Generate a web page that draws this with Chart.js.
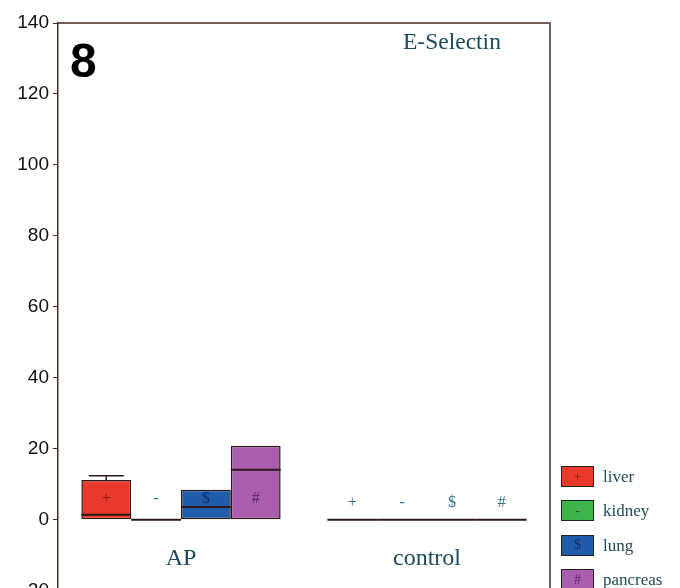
<!DOCTYPE html>
<html>
<head>
<meta charset="utf-8">
<script src="https://cdn.jsdelivr.net/npm/chart.js@4.4.1/dist/chart.umd.min.js"></script>
<style>
  html, body { margin: 0; padding: 0; overflow: hidden; background: #fff; }
  #wrap { position: relative; width: 680px; height: 606px; }
  canvas { position: absolute; left: 0; top: 0; }
  .panel { position: absolute; left: 70px; top: 37px; font: bold 48px "Liberation Sans", Arial, sans-serif; line-height: 1; color: #000; }
  .title { position: absolute; left: 403px; top: 30px; font: 23.5px "Liberation Serif", "Times New Roman", serif; line-height: 1; color: #1f4a58; }
  .legend { position: absolute; left: 561px; top: 466px; }
  .row { display: flex; align-items: center; height: 21px; margin-bottom: 13.4px; }
  .swatch { width: 31px; height: 19px; border: 1px solid #222; display: flex; align-items: center; justify-content: center;
            font: 14px "Liberation Serif", serif; line-height: 1; }
  .lbl { margin-left: 9px; font: 17px "Liberation Serif", "Times New Roman", serif; line-height: 1; color: #1f4a58; }
</style>
</head>
<body>
<div id="wrap">
  <canvas id="c" width="680" height="606"></canvas>
  <div class="panel">8</div>
  <div class="title">E-Selectin</div>
  <div class="legend" id="legend"></div>
</div>
<script>
// Groups along the x axis and the four tissues shown in each group
const groups = ['AP', 'control'];
const organs = ['liver', 'kidney', 'lung', 'pancreas'];
const organSymbols = ['+', '-', '$', '#'];
const organColors = ['#e8392b', '#3db54a', '#1f5caa', '#a95fae'];
const symbolColors = ['#8a1e18', '#1d5e26', '#10306a', '#5e2a66'];

// Box ranges [25th, 75th percentile] per group
const liverBox = [[0, 11.2], [0, 0]];
const kidneyBox = [[0, 0], [0, 0]];
const lungBox = [[0, 8.4], [0, 0]];
const pancreasBox = [[0, 20.8], [0, 0]];

// Medians per group
const liverMedian = [1.4, 0];
const kidneyMedian = [0, 0];
const lungMedian = [3.6, 0];
const pancreasMedian = [14.1, 0];

// Upper whisker ends per group
const liverWhisker = [12.4, 0];
const kidneyWhisker = [0, 0];
const lungWhisker = [8.4, 0];
const pancreasWhisker = [20.8, 0];

// y axis range and step
const yMin = -20, yMax = 140, yStep = 20;

const boxes = [liverBox, kidneyBox, lungBox, pancreasBox];
const medians = [liverMedian, kidneyMedian, lungMedian, pancreasMedian];
const whiskers = [liverWhisker, kidneyWhisker, lungWhisker, pancreasWhisker];

// Legend
const legendEl = document.getElementById('legend');
organs.forEach((name, i) => {
  const row = document.createElement('div');
  row.className = 'row';
  const sw = document.createElement('div');
  sw.className = 'swatch';
  sw.style.background = organColors[i];
  sw.style.color = symbolColors[i];
  sw.textContent = organSymbols[i];
  const lb = document.createElement('div');
  lb.className = 'lbl';
  lb.textContent = name;
  row.appendChild(sw);
  row.appendChild(lb);
  legendEl.appendChild(row);
});

const edge = '#2b1a17';

// Draws medians, whiskers, the in-box symbols, group labels and the frame
const boxExtras = {
  id: 'boxExtras',
  afterDatasetsDraw(chart, args, opts) {
    const ctx = chart.ctx;
    const ys = chart.scales.y, xs = chart.scales.x;
    const area = chart.chartArea;
    ctx.save();
    chart.data.datasets.forEach((ds, di) => {
      const meta = chart.getDatasetMeta(di);
      meta.data.forEach((bar, gi) => {
        const half = bar.width / 2;
        const left = bar.x - half, right = bar.x + half;
        const hi = boxes[di][gi][1];
        // median
        const my = ys.getPixelForValue(medians[di][gi]);
        ctx.strokeStyle = edge;
        ctx.lineWidth = 2;
        ctx.beginPath();
        ctx.moveTo(left, my);
        ctx.lineTo(right, my);
        ctx.stroke();
        // upper whisker
        const w = whiskers[di][gi];
        if (w > hi) {
          const ty = ys.getPixelForValue(hi), wy = ys.getPixelForValue(w);
          ctx.lineWidth = 1.5;
          ctx.beginPath();
          ctx.moveTo(bar.x, ty);
          ctx.lineTo(bar.x, wy);
          ctx.moveTo(bar.x - half * 0.7, wy);
          ctx.lineTo(bar.x + half * 0.7, wy);
          ctx.stroke();
        }
        // symbol
        const level = opts.symbolLevel[gi];
        const inside = level >= boxes[di][gi][0] && level <= hi;
        ctx.fillStyle = inside ? symbolColors[di] : '#2f6f86';
        ctx.font = '16px "Liberation Serif", serif';
        ctx.textAlign = 'center';
        ctx.textBaseline = 'middle';
        ctx.fillText(organSymbols[di], bar.x, ys.getPixelForValue(level));
      });
    });
    // group labels
    ctx.fillStyle = '#1f4a58';
    ctx.font = '24px "Liberation Serif", "Times New Roman", serif';
    ctx.textAlign = 'center';
    ctx.textBaseline = 'middle';
    groups.forEach((g, i) => {
      ctx.fillText(g, xs.getPixelForValue(i), ys.getPixelForValue(opts.labelLevel));
    });
    // frame top and right
    ctx.strokeStyle = '#4a2a22';
    ctx.lineWidth = 1.5;
    ctx.beginPath();
    ctx.moveTo(area.left, area.top);
    ctx.lineTo(area.right, area.top);
    ctx.lineTo(area.right, area.bottom);
    ctx.stroke();
    ctx.restore();
  }
};

new Chart(document.getElementById('c'), {
  type: 'bar',
  data: {
    labels: groups,
    datasets: organs.map((name, i) => ({
      label: name,
      data: boxes[i],
      backgroundColor: organColors[i],
      borderColor: edge,
      borderWidth: 1.5,
      borderSkipped: false,
      categoryPercentage: 0.81,
      barPercentage: 1.0
    }))
  },
  options: {
    responsive: false,
    animation: false,
    layout: { padding: { left: 0, right: 130, top: 23, bottom: 10 } },
    plugins: {
      legend: { display: false },
      tooltip: { enabled: false },
      boxExtras: { symbolLevel: [6, 4.8], labelLevel: -11 }
    },
    scales: {
      x: { display: false },
      y: {
        min: yMin, max: yMax,
        ticks: { stepSize: yStep, color: '#111', padding: 4,
                 font: { family: '"Liberation Sans", Arial, sans-serif', size: 19 } },
        grid: { drawOnChartArea: false, drawTicks: true, tickLength: 5, color: '#3a2a2a' },
        border: { display: true, color: '#4a2a22', width: 1.5 },
        afterFit(scale) { scale.width = 58; }
      }
    }
  },
  plugins: [boxExtras]
});
</script>
</body>
</html>
